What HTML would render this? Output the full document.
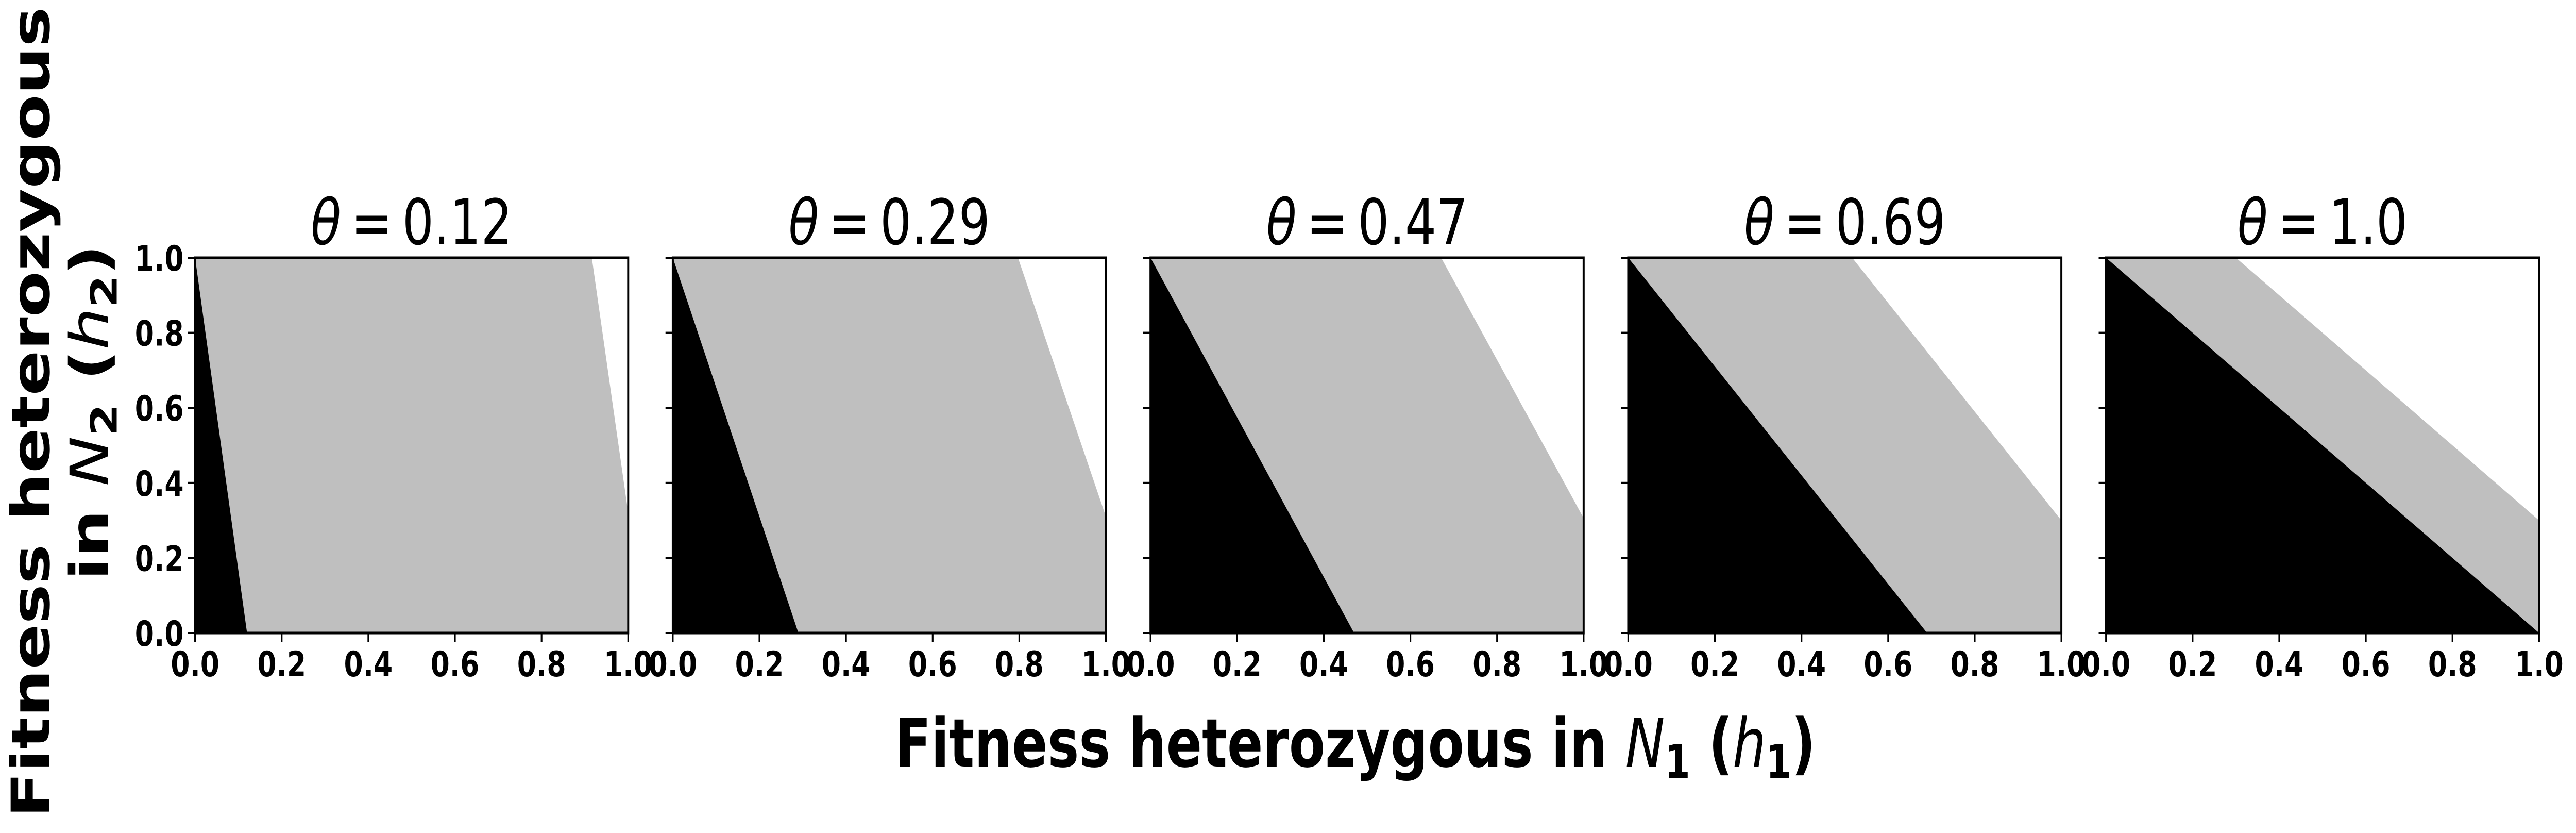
<!DOCTYPE html>
<html><head><meta charset="utf-8"><style>
html,body{margin:0;padding:0;background:#fff;overflow:hidden;}
svg{display:block;width:100vw;height:100vh;}
text{font-family:"DejaVu Sans","Liberation Sans",sans-serif;}
</style></head><body>
<svg id="fig" viewBox="0 0 6352 1616" preserveAspectRatio="none" xmlns="http://www.w3.org/2000/svg">
<g id="panels"></g>
<text x="3342" y="1487" text-anchor="middle" font-size="130" font-weight="bold">Fitness heterozygous in <tspan font-style="italic" font-weight="normal">N</tspan><tspan font-size="90" dy="22">1</tspan><tspan dy="-22"> (</tspan><tspan font-style="italic" font-weight="normal">h</tspan><tspan font-size="90" dy="22">1</tspan><tspan dy="-22">)</tspan></text>
<g transform="translate(0,800) rotate(-90)">
<text x="0" y="121" text-anchor="middle" font-size="130" font-weight="bold">Fitness heterozygous</text>
<text x="0" y="266" text-anchor="middle" font-size="130" font-weight="bold">in <tspan font-style="italic" font-weight="normal">N</tspan><tspan font-size="90" dy="22">2</tspan><tspan dy="-22"> (</tspan><tspan font-style="italic" font-weight="normal">h</tspan><tspan font-size="90" dy="22">2</tspan><tspan dy="-22">)</tspan></text>
</g>
</svg>
<script>
const thetaLabels = ["0.12","0.29","0.47","0.69","1.0"];
const blackBottomX = [0.12,0.29,0.47,0.69,1.0];
const grayTopX = [0.916,0.797,0.671,0.517,0.30];
const grayRightY = [0.32,0.31,0.306,0.30,0.30];
const tickValues = [0,0.2,0.4,0.6,0.8,1.0];
const tickLabels = ["0.0","0.2","0.4","0.6","0.8","1.0"];

const NS="http://www.w3.org/2000/svg";
const g=document.getElementById('panels');
const PL0=481, PITCH=1178, PW=1068, PT=500, PH=728;
function mk(tag,attrs,parent){const e=document.createElementNS(NS,tag);for(const k in attrs)e.setAttribute(k,attrs[k]);parent.appendChild(e);return e;}
thetaLabels.forEach((lab,i)=>{
  const left=PL0+i*PITCH;
  const sx=v=>left+v*PW, sy=v=>PT+PH-v*PH;
  const pg=mk('g',{},g);
  
  
  const bg=mk('rect',{x:sx(0),y:sy(1),width:PW,height:PH,fill:'#fff'},pg);
  
  
  const gr=mk('polygon',{points:`${sx(0)},${sy(0)} ${sx(0)},${sy(1)} ${sx(grayTopX[i])},${sy(1)} ${sx(1)},${sy(grayRightY[i])} ${sx(1)},${sy(0)}`,fill:'#bfbfbf'},pg);
  
  
  const bk=mk('polygon',{points:`${sx(0)},${sy(0)} ${sx(0)},${sy(1)} ${sx(blackBottomX[i])},${sy(0)}`,fill:'#000'},pg);
  
  
  const fr=mk('rect',{x:sx(0),y:sy(1),width:PW,height:PH,fill:'none',stroke:'#000','stroke-width':5},pg);
  
  
  const t=mk('text',{x:left+PW/2,y:474,'text-anchor':'middle','font-size':122},pg);
  
  
  const ti=mk('tspan',{'font-style':'italic'},t); ti.textContent='θ';
  const tr=mk('tspan',{},t); tr.textContent='\u2009=\u2009'+lab;
  tickValues.forEach((v,j)=>{
    const xt=mk('line',{x1:sx(v),x2:sx(v),y1:sy(0),y2:sy(0)+18,stroke:'#000','stroke-width':4},pg);
    
    
    const xl=mk('text',{x:sx(v),y:1312,'text-anchor':'middle','font-size':68,'font-weight':'bold'},pg);
    
    
    xl.textContent=tickLabels[j];
    const yt=mk('line',{x1:sx(0)-18,x2:sx(0),y1:sy(v),y2:sy(v),stroke:'#000','stroke-width':4},pg);
    
    
    if(i===0){
      const yl=mk('text',{x:sx(0)-28,y:sy(v)+25,'text-anchor':'end','font-size':68,'font-weight':'bold'},pg);
      
      
      yl.textContent=tickLabels[j];
    }
  });
});
</script>
</body></html>
